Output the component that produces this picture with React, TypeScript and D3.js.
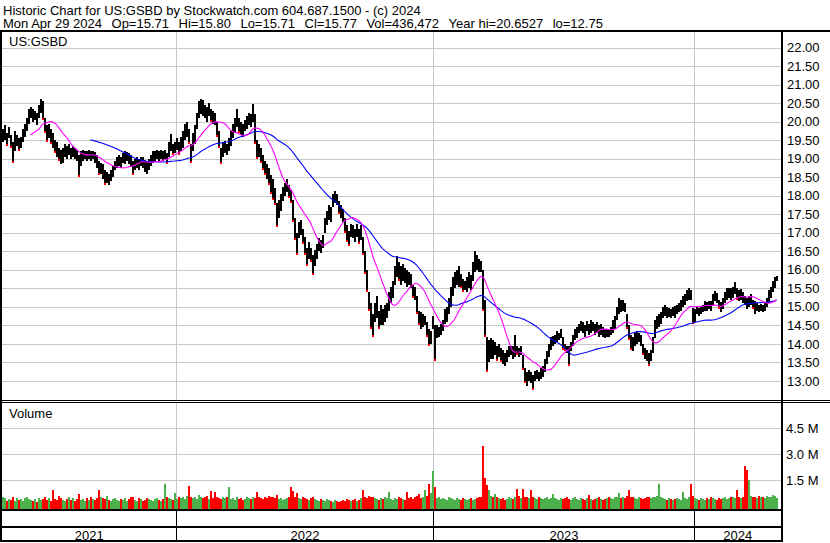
import React from 'react';
import * as d3 from 'd3';

// ---- data (each point = ~2 trading days) ----
const lows: number[] = [
  19.45,19.50,19.35,19.55,19.30,18.90,19.20,19.35,19.20,19.30,
  19.45,19.60,19.75,19.95,20.10,20.00,20.05,19.90,20.10,20.25,
  20.05,19.70,19.45,19.55,19.40,19.30,19.15,19.05,18.95,18.85,
  18.90,19.05,19.00,19.10,19.00,19.05,19.00,18.95,18.50,18.80,
  18.95,19.00,18.95,19.00,18.95,19.00,18.90,18.75,18.55,18.60,
  18.45,18.30,18.35,18.28,18.40,18.50,18.70,18.75,18.80,18.75,
  18.90,18.85,18.95,18.85,18.80,18.55,18.70,18.75,18.70,18.80,
  18.75,18.65,18.60,18.70,18.80,18.90,18.95,19.00,18.95,19.00,
  18.95,19.00,18.85,19.05,19.20,19.10,19.15,19.25,19.10,19.20,
  19.30,19.50,19.60,19.40,18.90,19.20,19.40,19.80,20.10,20.20,
  20.15,20.10,20.00,20.15,20.00,19.95,19.90,19.60,19.30,18.85,
  19.05,19.15,19.10,19.20,19.35,19.55,19.70,19.85,19.70,19.65,
  19.60,19.75,19.80,19.90,19.85,20.00,19.40,19.00,19.05,18.90,
  18.70,18.55,18.45,18.30,18.05,17.90,17.75,17.15,17.40,17.60,
  17.85,18.00,18.10,17.95,17.80,17.30,16.80,16.40,16.85,16.95,
  16.70,16.40,16.10,16.30,16.20,15.85,16.10,16.30,16.50,16.45,
  16.60,17.00,17.20,17.35,17.30,17.70,17.80,17.75,17.50,17.40,
  17.30,17.00,16.75,16.65,16.90,16.85,16.75,16.90,16.70,16.80,
  16.40,15.90,15.40,14.90,14.40,14.20,14.60,14.70,14.40,14.50,
  14.50,14.60,14.70,14.90,15.10,15.25,15.60,15.80,15.70,15.60,
  15.70,15.65,15.55,15.60,15.50,15.25,15.20,14.80,14.50,14.40,
  14.45,14.50,14.20,13.95,14.00,14.40,13.55,14.15,14.20,14.25,
  14.35,14.55,14.60,14.80,15.00,15.30,15.50,15.60,15.55,15.50,
  15.40,15.45,15.40,15.50,15.45,15.70,15.95,16.00,15.95,15.95,
  14.90,14.20,13.25,13.50,13.60,13.60,13.70,13.55,13.65,13.50,
  13.45,13.40,13.50,13.65,13.70,13.60,13.65,13.70,13.65,13.70,
  13.30,12.95,12.86,13.00,12.95,12.76,13.00,13.05,13.00,13.05,
  13.10,13.25,13.45,13.65,13.85,13.95,14.00,14.05,14.10,14.15,
  13.85,13.80,13.75,13.40,13.80,13.95,14.10,14.15,14.30,14.35,
  14.30,14.20,14.35,14.25,14.30,14.35,14.25,14.30,14.20,14.25,
  14.20,14.15,14.20,14.18,14.25,14.30,14.40,14.65,14.80,14.85,
  14.90,14.85,14.40,14.10,13.85,13.80,13.95,14.00,14.05,13.95,
  13.70,13.60,13.55,13.40,13.55,13.75,14.15,14.40,14.45,14.55,
  14.70,14.75,14.70,14.72,14.70,14.75,14.70,14.80,14.85,14.90,
  15.00,15.05,15.15,15.20,15.20,14.55,14.60,14.80,14.75,14.80,
  14.85,14.90,14.88,14.95,14.90,15.05,15.15,15.10,14.95,14.85,
  14.95,15.10,15.20,15.25,15.20,15.25,15.35,15.20,15.15,15.20,
  15.10,15.05,14.95,15.00,15.05,14.95,14.80,14.90,14.85,14.90,
  14.85,14.90,15.00,15.10,15.25,15.40,15.50,15.71,
];
const highs: number[] = [
  19.80,19.90,19.70,19.85,19.65,19.45,19.75,19.65,19.55,19.60,
  19.80,19.95,20.10,20.35,20.40,20.35,20.30,20.25,20.45,20.62,
  20.55,20.10,19.90,19.95,19.80,19.70,19.50,19.45,19.30,19.25,
  19.30,19.40,19.35,19.40,19.30,19.35,19.30,19.25,19.10,19.20,
  19.25,19.22,19.20,19.25,19.20,19.22,19.18,19.10,18.95,18.90,
  18.85,18.70,18.65,18.60,18.70,18.80,18.95,19.05,19.10,19.05,
  19.15,19.20,19.18,19.15,19.10,18.95,19.00,19.05,19.00,19.05,
  19.05,18.98,18.95,19.00,19.10,19.20,19.22,19.25,19.20,19.25,
  19.22,19.25,19.15,19.45,19.68,19.40,19.45,19.55,19.45,19.60,
  19.75,19.95,20.00,19.80,19.40,19.70,19.90,20.25,20.55,20.62,
  20.58,20.45,20.40,20.50,20.35,20.30,20.25,20.00,19.75,19.30,
  19.45,19.48,19.40,19.55,19.75,19.95,20.10,20.35,20.10,20.00,
  19.95,20.05,20.15,20.25,20.20,20.48,20.20,19.50,19.40,19.30,
  19.10,18.95,18.85,18.75,18.55,18.45,18.20,17.80,17.90,18.05,
  18.25,18.35,18.45,18.30,18.15,17.90,17.40,17.00,17.30,17.35,
  17.10,16.90,16.60,16.75,16.60,16.40,16.55,16.70,16.85,16.80,
  16.95,17.40,17.60,17.75,17.70,18.05,18.12,18.05,17.85,17.75,
  17.65,17.40,17.20,17.05,17.25,17.20,17.10,17.25,17.10,17.20,
  16.90,16.50,16.00,15.40,15.10,14.80,15.10,15.30,14.90,15.05,
  14.95,15.05,15.10,15.40,15.55,15.70,16.10,16.38,16.20,16.10,
  16.15,16.05,16.00,15.95,15.90,15.60,15.55,15.30,14.90,14.85,
  14.80,14.75,14.60,14.40,14.35,14.75,14.50,14.50,14.45,14.55,
  14.65,14.95,15.00,15.25,15.55,15.80,15.95,16.00,16.10,15.90,
  15.75,15.70,15.80,15.95,15.85,16.20,16.50,16.40,16.30,16.25,
  16.00,15.20,14.20,14.10,14.15,14.10,14.05,13.95,14.00,13.90,
  13.85,13.75,13.85,13.95,13.95,13.95,14.25,13.95,13.90,13.95,
  13.70,13.35,13.25,13.30,13.25,13.15,13.27,13.30,13.25,13.35,
  13.40,13.60,13.80,14.00,14.20,14.22,14.25,14.35,14.30,14.40,
  14.20,14.00,13.95,13.95,14.05,14.25,14.40,14.45,14.55,14.62,
  14.58,14.50,14.62,14.55,14.65,14.60,14.55,14.58,14.50,14.55,
  14.45,14.40,14.40,14.38,14.45,14.65,14.75,15.00,15.25,15.20,
  15.18,15.10,14.80,14.50,14.25,14.20,14.30,14.35,14.30,14.25,
  14.00,13.90,13.85,13.75,13.85,14.20,14.65,14.75,14.80,14.85,
  15.00,15.05,15.00,14.98,14.95,15.00,15.02,15.05,15.10,15.20,
  15.30,15.35,15.45,15.50,15.45,14.98,14.95,15.00,14.98,15.02,
  15.05,15.15,15.12,15.17,15.15,15.35,15.43,15.38,15.20,15.12,
  15.25,15.40,15.50,15.52,15.50,15.55,15.66,15.50,15.45,15.48,
  15.40,15.30,15.25,15.30,15.35,15.20,15.15,15.10,15.05,15.08,
  15.05,15.10,15.25,15.45,15.55,15.70,15.80,15.84,
];
// volume in millions of shares
const volumes: number[] = [
  0.55,0.45,0.30,0.40,0.35,0.50,0.30,0.45,0.35,0.40,
  0.30,0.45,0.55,0.40,0.35,0.30,0.40,0.25,0.45,0.35,
  0.40,0.50,0.35,0.45,0.30,0.95,0.40,0.35,0.60,0.45,
  0.35,0.30,0.40,0.50,0.35,0.45,0.30,0.40,0.70,0.35,
  0.40,0.30,0.45,0.35,0.50,0.40,0.35,0.45,0.95,0.55,
  0.45,0.40,0.60,0.35,0.30,0.40,0.45,0.35,0.30,0.40,
  0.35,0.45,0.30,0.40,0.50,0.55,0.35,0.30,0.45,0.40,
  0.30,0.35,0.45,0.40,0.35,0.30,0.40,0.45,0.35,0.30,
  0.40,1.30,0.50,0.45,0.40,0.35,0.75,0.40,0.55,0.45,
  0.50,0.40,0.60,1.15,0.55,0.45,0.50,0.40,0.65,0.55,
  0.45,0.50,0.60,0.40,0.85,0.45,0.80,0.50,0.45,0.40,
  0.55,0.45,0.50,1.10,0.40,0.45,0.35,0.50,0.40,0.45,
  0.35,0.40,0.50,0.45,0.40,0.55,0.45,0.80,0.50,0.45,
  0.40,0.50,0.45,0.60,0.55,0.50,0.45,0.65,0.40,0.45,
  0.35,0.40,0.45,0.50,1.10,0.85,0.55,0.75,0.45,0.40,
  0.50,0.45,0.40,0.35,0.45,0.50,0.40,0.35,0.30,0.40,
  0.35,0.30,0.40,0.35,0.30,0.25,0.35,0.30,0.25,0.30,
  0.35,0.30,0.40,0.35,0.30,0.35,0.40,0.30,0.35,0.45,
  0.90,0.50,0.45,0.60,0.55,0.50,0.45,0.40,0.35,0.45,
  0.40,0.50,0.45,0.80,0.40,0.35,0.45,0.40,0.50,0.45,
  0.40,0.35,0.80,0.45,0.50,0.40,0.55,0.60,0.70,0.45,
  0.50,0.90,0.60,1.30,0.75,2.00,1.10,0.45,0.50,0.40,
  0.45,0.40,0.35,0.50,0.45,0.40,0.35,0.45,0.40,0.35,
  0.45,0.40,0.35,0.40,0.45,0.35,0.40,0.45,0.50,0.55,
  3.45,1.60,1.20,0.90,0.60,0.55,0.70,0.50,0.45,0.40,
  0.45,0.35,0.40,0.50,0.45,0.40,0.55,1.00,0.60,0.45,
  1.00,0.55,0.50,0.45,0.95,0.50,0.45,0.40,0.50,0.45,
  0.40,0.45,0.50,0.40,0.45,0.70,0.45,0.40,0.35,0.45,
  0.40,0.45,0.50,0.40,0.35,0.45,0.50,0.40,0.35,0.45,
  0.40,0.35,0.45,0.65,0.40,0.35,0.40,0.45,0.50,0.40,
  0.35,0.40,0.45,0.50,0.45,0.40,0.55,0.50,0.75,0.45,
  0.50,0.45,0.60,0.95,0.55,0.50,0.45,0.40,0.50,0.45,
  0.40,0.45,0.50,0.55,0.45,0.50,0.55,0.60,1.25,0.50,
  0.45,0.40,0.35,0.45,0.40,0.35,0.40,0.45,0.40,0.35,
  0.80,0.45,0.40,0.50,1.30,0.60,0.45,0.40,0.35,0.45,
  0.40,0.35,0.45,0.40,0.50,0.45,0.40,0.35,0.45,0.40,
  0.45,0.50,0.40,0.45,0.50,0.55,0.45,0.90,0.50,0.45,
  0.50,2.30,2.10,1.50,0.60,0.55,0.50,0.45,0.60,0.55,
  0.50,0.45,0.60,0.55,0.50,0.65,0.60,0.44,
];
const priceTicks: number[] = [13, 13.5, 14, 14.5, 15, 15.5, 16, 16.5, 17, 17.5, 18, 18.5, 19, 19.5, 20, 20.5, 21, 21.5, 22];
const volTicks: number[] = [1.5, 3.0, 4.5];
const volTickLabels: string[] = ['1.5 M', '3.0 M', '4.5 M'];
const years: string[] = ['2021', '2022', '2023', '2024'];
const yearStartIdx: number[] = [0, 87, 216, 346];
const maPeriods: number[] = [15, 45];
const title = 'Historic Chart for US:GSBD by Stockwatch.com 604.687.1500 - (c) 2024';
const quoteFields: string[] = ['Mon Apr 29 2024', 'Op=15.71', 'Hi=15.80', 'Lo=15.71', 'Cl=15.77', 'Vol=436,472', 'Year hi=20.6527', 'lo=12.75'];
const symbol = 'US:GSBD';

export default function App() {
  const W = 830, H = 543;
  const FONT = "'Liberation Sans', Arial, sans-serif";
  const plotL = 2, plotR = 781;
  const priceTop = 32, priceBot = 400;
  const volTop = 402, volBot = 509;
  const fieldGap = 9.5;

  const n = lows.length;
  const x = d3.scaleLinear().domain([0, n - 1]).range([2.5, 2.5 + 2 * (n - 1)]);
  const y = d3.scaleLinear().domain([13, 22]).range([381, 47.7]);
  const vy = d3.scaleLinear().domain([0, 4.5]).range([506, 428.3]);

  const mids = lows.map((l, i) => (l + highs[i]) / 2);
  const sma = (w: number) => mids.map((_, i) => (i < w - 1 ? null : (d3.mean(mids.slice(i - w + 1, i + 1)) as number)));
  const ma1 = sma(maPeriods[0]);
  const ma2 = sma(maPeriods[1]);
  const line = d3
    .line<number | null>()
    .defined((d) => d != null)
    .x((_, i) => x(i))
    .y((d) => y(d as number));

  const yearBounds = yearStartIdx.map((idx) => (idx === 0 ? plotL : Math.round(x(idx) - 1) + 0.5));
  const yearEdges = [...yearBounds, plotR];

  const crisp = (v: number) => Math.round(v) + 0.5;

  return (
    <svg width={W} height={H} style={{ position: 'absolute', left: 0, top: 0, background: '#fff' }} fontFamily={FONT}>
      <rect x={0} y={0} width={W} height={H} fill="#fff" />
      {/* header */}
      <text x={3} y={14.5} fontSize={13} fill="#000">{title}</text>
      <text x={3} y={27.5} fontSize={13} fill="#000">
        {quoteFields.map((f, i) => (
          <tspan key={i} dx={i === 0 ? 0 : fieldGap}>{f}</tspan>
        ))}
      </text>

      {/* price grid */}
      {priceTicks.map((p) => (
        <line key={p} x1={plotL} x2={plotR} y1={crisp(y(p))} y2={crisp(y(p))} stroke="#c8c8c8" strokeWidth={1} />
      ))}
      {volTicks.map((v) => (
        <line key={v} x1={plotL} x2={plotR} y1={crisp(vy(v))} y2={crisp(vy(v))} stroke="#c8c8c8" strokeWidth={1} />
      ))}
      {yearBounds.slice(1).map((bx, i) => (
        <g key={i}>
          <line x1={bx} x2={bx} y1={priceTop} y2={priceBot} stroke="#c8c8c8" />
          <line x1={bx} x2={bx} y1={volTop} y2={volBot} stroke="#c8c8c8" />
          <line x1={bx} x2={bx} y1={volBot} y2={541} stroke="#000" />
        </g>
      ))}

      {/* volume bars */}
      <g shapeRendering="crispEdges">
        {volumes.map((v, i) => {
          const up = i === 0 ? true : mids[i] >= mids[i - 1];
          const top = vy(v);
          return (
            <rect key={i} x={x(i) - 1} y={top} width={2} height={volBot - top} fill={up ? '#4cb04c' : '#ff0000'} />
          );
        })}
      </g>

      {/* price bars */}
      <g shapeRendering="crispEdges">
        {lows.map((l, i) => {
          const top = y(highs[i]);
          const bot = y(l);
          return <rect key={i} x={x(i) - 1} y={top} width={2} height={Math.max(1, bot - top)} fill="#000" />;
        })}
        {lows.map((l, i) => {
          if (i === 0 || mids[i] > mids[i - 1] - 0.12) return null;
          return <rect key={'r' + i} x={x(i) - 1} y={y(l) - 2} width={2} height={2} fill="#ff0000" />;
        })}
      </g>

      {/* moving averages */}
      <path d={line(ma2) || ''} fill="none" stroke="#0000ff" strokeWidth={1.1} />
      <path d={line(ma1) || ''} fill="none" stroke="#ff00ff" strokeWidth={1.1} />

      {/* labels */}
      <text x={9} y={46} fontSize={13} fill="#000">{symbol}</text>
      <text x={9} y={417.5} fontSize={13} fill="#000">Volume</text>
      {priceTicks.map((p) => (
        <text key={p} x={787} y={y(p)} dy="0.35em" fontSize={13} fill="#000">{p.toFixed(2)}</text>
      ))}
      {volTicks.map((v, i) => (
        <text key={v} x={786} y={vy(v)} dy="0.35em" fontSize={13} fill="#000">{volTickLabels[i]}</text>
      ))}
      {years.map((yr, i) => (
        <text key={yr} x={(yearEdges[i] + yearEdges[i + 1]) / 2} y={539.5} fontSize={13} textAnchor="middle" fill="#000">{yr}</text>
      ))}

      {/* frame */}
      <g shapeRendering="crispEdges" fill="#000">
        <rect x={0} y={30} width={W} height={2} />
        <rect x={0} y={30} width={2} height={512} />
        <rect x={781} y={30} width={2} height={512} />
        <rect x={0} y={400} width={W} height={1} />
        <rect x={0} y={402} width={W} height={1} />
        <rect x={0} y={509} width={783} height={2} />
        <rect x={0} y={526} width={783} height={2} />
        <rect x={0} y={540} width={783} height={2} />
      </g>
    </svg>
  );
}
